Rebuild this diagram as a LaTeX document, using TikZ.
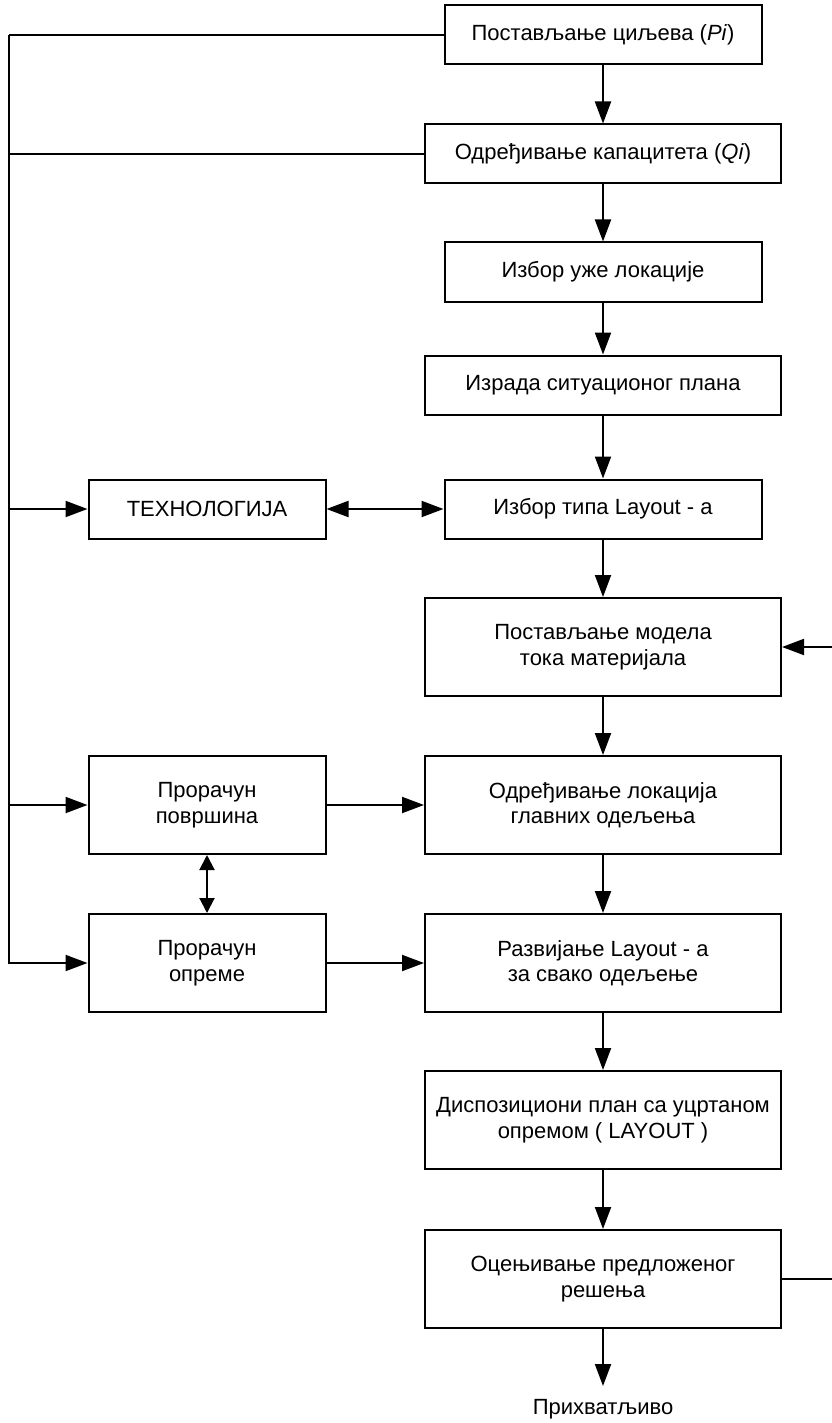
\documentclass[tikz,border=0pt]{standalone}
\usepackage{fontspec}
\setmainfont{Liberation Sans}
\usetikzlibrary{arrows.meta}
\begin{document}
\begin{tikzpicture}[x=1pt,y=-1pt,line width=2pt,
  box/.style={draw,line width=2pt,rectangle,align=center,inner sep=0pt,
    font=\fontsize{22}{25.5}\selectfont},
  wbox/.style={box,minimum width=356pt,minimum height=98pt},
  nbox/.style={box,minimum width=317pt,minimum height=59pt},
  lbox/.style={box,minimum width=237pt},
  arr/.style={-{Triangle[length=22pt,width=16pt]}},
  darr/.style={{Triangle[length=22pt,width=16pt]}-{Triangle[length=22pt,width=16pt]}},
  sdarr/.style={{Triangle[length=15pt,width=15pt]}-{Triangle[length=15pt,width=15pt]}}]
\useasboundingbox (0,0) rectangle (831,1423);
\node[nbox] (B1) at (603,35) {Постављање циљева (\textit{Pi})};
\node[wbox,minimum height=59pt] (B2) at (603,154) {Одређивање капацитета (\textit{Qi})};
\node[nbox] (B3) at (603,272) {Избор уже локације};
\node[wbox,minimum height=59pt] (B4) at (603,385) {Израда ситуационог плана};
\node[nbox] (B5) at (603,509) {Избор типа Layout - а};
\node[wbox] (B6) at (603,647) {Постављање модела\\тока материјала};
\node[wbox] (B7) at (603,805) {Одређивање локација\\главних одељења};
\node[wbox] (B8) at (603,963) {Развијање Layout - а\\за свако одељење};
\node[wbox] (B9) at (603,1120) {Диспозициони план са уцртаном\\опремом ( LAYOUT )};
\node[wbox] (B10) at (603,1279) {Оцењивање предложеног\\решења};
\node[lbox,minimum height=59pt] (T) at (207,509) {ТЕХНОЛОГИЈА};
\node[lbox,minimum height=98pt] (P) at (207,805) {Прорачун\\површина};
\node[lbox,minimum height=98pt] (O) at (207,963) {Прорачун\\опреме};
\node[anchor=base,inner sep=0pt,font=\fontsize{22}{25.5}\selectfont] (acc) at (603,1414) {Прихватљиво};
\coordinate (lt) at (9,35);
\coordinate (rx) at (832,0);
% main chain
\draw[arr] (B1) -- (B2);
\draw[arr] (B2) -- (B3);
\draw[arr] (B3) -- (B4);
\draw[arr] (B4) -- (B5);
\draw[arr] (B5) -- (B6);
\draw[arr] (B6) -- (B7);
\draw[arr] (B7) -- (B8);
\draw[arr] (B8) -- (B9);
\draw[arr] (B9) -- (B10);
\draw[arr] (B10) -- (acc.north |- 0,1386);
% left bus
\draw (B1.west) -- (lt);
\draw[arr] (lt) |- (O.west);
\draw (B2.west) -- (B2.west -| lt);
\draw[arr] (T.west -| lt) -- (T.west);
\draw[arr] (P.west -| lt) -- (P.west);
% side links
\draw[darr] (T) -- (B5);
\draw[arr] (P) -- (B7);
\draw[arr] (O) -- (B8);
\draw[sdarr] (P) -- (O);
% feedback (right side, cut at page edge)
\draw (B10.east) -- (B10.east -| rx);
\draw[arr] (B6.east -| rx) -- (B6.east);
\end{tikzpicture}
\end{document}
